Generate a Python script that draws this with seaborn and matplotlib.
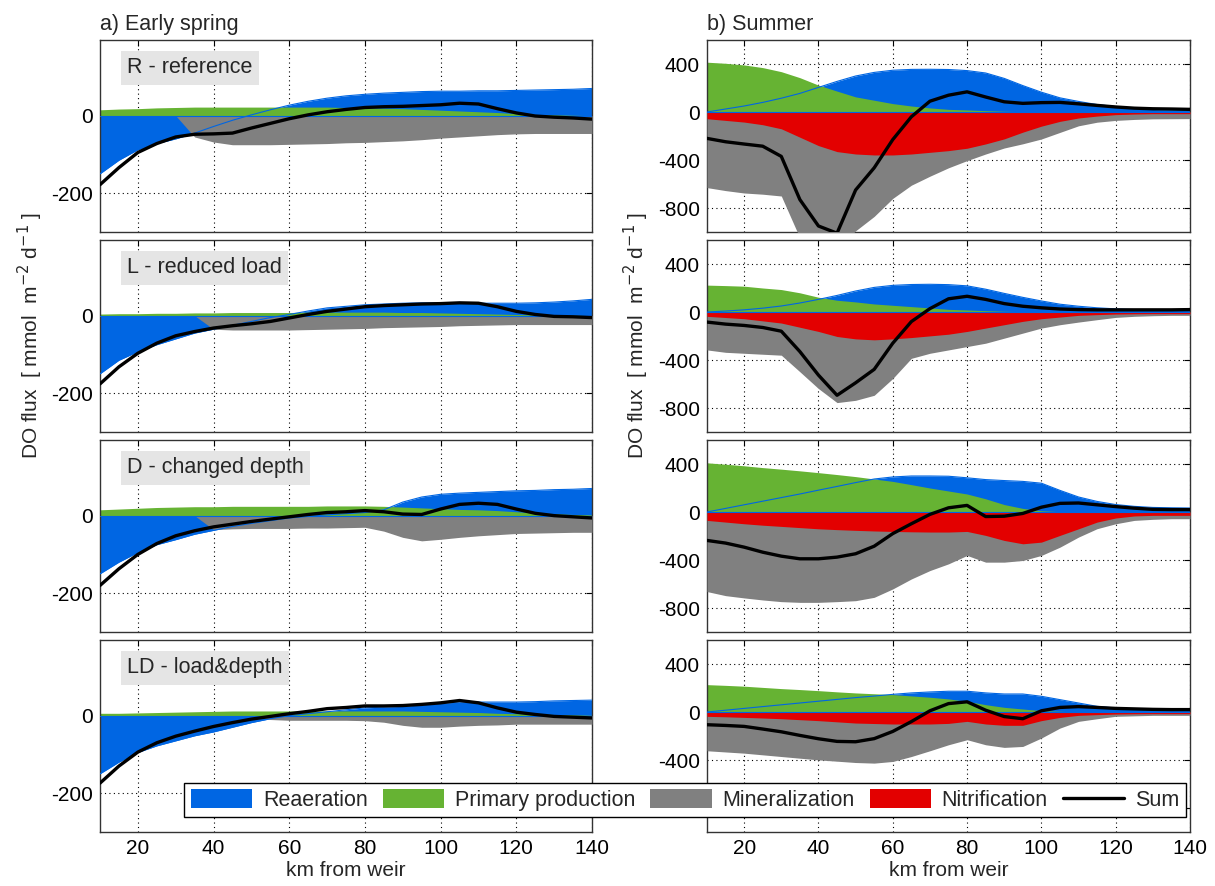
import numpy as np
import pandas as pd
import matplotlib
matplotlib.use("Agg")
import matplotlib.pyplot as plt
from matplotlib.patches import Patch
from matplotlib.lines import Line2D
import seaborn as sns

# ---------------- data ----------------
KM = [10, 15, 20, 25, 30, 35, 40, 45, 50, 55, 60, 65, 70, 75, 80, 85, 90, 95,
      100, 105, 110, 115, 120, 125, 130, 135, 140]

# Early spring
spring_R_rea = [-150, -115, -88, -72, -60, -45, -28, -12, 2, 15, 27, 37, 45, 51, 55, 58, 60, 62, 63, 63, 64, 64, 65, 66, 67, 68, 70]
spring_R_pp = [15, 17, 18, 20, 21, 22, 22, 22, 22, 22, 22, 22, 22, 21, 20, 19, 18, 16, 14, 12, 10, 8, 5, 3, 2, 1, 0]
spring_R_min = [0, 0, 0, 0, 0, -55, -68, -75, -75, -75, -74, -73, -72, -70, -69, -67, -65, -62, -58, -55, -52, -49, -47, -46, -46, -46, -46]
spring_R_nit = [0] * 27
spring_R_sum = [-178, -134, -95, -72, -55, -48, -47, -45, -32, -20, -8, 2, 10, 16, 21, 23, 24, 26, 28, 32, 30, 18, 7, -1, -4, -6, -9]

spring_L_rea = [-150, -115, -93, -75, -60, -45, -35, -25, -15, -5, 3, 12, 20, 24, 28, 30, 32, 33, 33, 33, 32, 32, 32, 33, 35, 38, 42]
spring_L_pp = [4, 5, 5, 6, 6, 7, 7, 8, 8, 8, 8, 9, 9, 9, 9, 9, 8, 8, 7, 6, 5, 4, 3, 2, 1, 1, 0]
spring_L_min = [0, 0, 0, 0, 0, 0, -35, -37, -37, -37, -37, -36, -35, -34, -33, -31, -30, -29, -28, -26, -25, -24, -23, -23, -23, -23, -23]
spring_L_nit = [0] * 27
spring_L_sum = [-176, -132, -97, -71, -52, -41, -32, -26, -21, -15, -6, 3, 11, 17, 23, 26, 28, 30, 31, 33, 32, 23, 11, 3, -2, -3, -5]

spring_D_rea = [-150, -120, -95, -75, -62, -48, -38, -28, -20, -13, -6, -2, 2, 5, 8, 15, 35, 48, 55, 58, 60, 62, 64, 65, 67, 68, 70]
spring_D_pp = [15, 17, 19, 21, 22, 23, 23, 24, 24, 24, 24, 24, 25, 25, 25, 24, 22, 20, 18, 16, 15, 13, 10, 7, 5, 3, 2]
spring_D_min = [0, 0, 0, 0, 0, 0, -36, -34, -33, -33, -33, -32, -32, -31, -30, -40, -56, -65, -61, -56, -52, -49, -46, -45, -44, -43, -43]
spring_D_nit = [0] * 27
spring_D_sum = [-180, -137, -100, -72, -52, -39, -29, -22, -15, -9, -3, 3, 8, 10, 13, 10, 4, 3, 17, 29, 32, 29, 17, 6, 0, -3, -6]

spring_LD_rea = [-150, -120, -95, -78, -65, -52, -42, -30, -18, -8, 0, 5, 10, 15, 20, 22, 24, 28, 32, 35, 35, 35, 35, 36, 38, 39, 40]
spring_LD_pp = [6, 6, 7, 8, 9, 10, 11, 12, 12, 12, 12, 12, 12, 12, 12, 12, 12, 11, 10, 9, 8, 6, 5, 4, 3, 2, 1]
spring_LD_min = [0, 0, 0, 0, 0, 0, 0, 0, 0, -10, -12, -12, -12, -12, -13, -17, -25, -30, -30, -27, -25, -24, -22, -22, -22, -22, -22]
spring_LD_nit = [0] * 27
spring_LD_sum = [-174, -130, -94, -70, -53, -40, -28, -18, -9, -2, 5, 11, 18, 21, 25, 25, 26, 29, 33, 39, 33, 20, 9, 3, -2, -4, -6]

# Summer
summer_R_rea = [0, 25, 50, 80, 115, 155, 205, 255, 300, 330, 348, 355, 356, 354, 345, 325, 280, 220, 165, 118, 88, 62, 45, 31, 21, 16, 14]
summer_R_pp = [415, 406, 392, 370, 336, 286, 224, 174, 126, 98, 70, 50, 34, 22, 17, 11, 6, 3, 0, 0, 0, 0, 0, 0, 0, 0, 0]
summer_R_min = [-630, -655, -675, -685, -700, -1050, -1150, -1150, -990, -870, -720, -610, -535, -465, -405, -350, -300, -265, -225, -170, -115, -85, -70, -62, -57, -56, -55]
summer_R_nit = [-56, -70, -84, -106, -140, -210, -280, -330, -350, -358, -358, -350, -336, -322, -302, -266, -224, -168, -118, -78, -50, -34, -22, -17, -14, -14, -14]
summer_R_sum = [-220, -248, -267, -285, -370, -730, -950, -1010, -650, -465, -230, -40, 90, 140, 168, 125, 85, 72, 78, 80, 68, 55, 42, 32, 27, 25, 22]

summer_L_rea = [0, 8, 18, 32, 50, 75, 105, 138, 175, 205, 222, 229, 231, 228, 218, 190, 155, 122, 92, 65, 48, 35, 26, 20, 16, 14, 12]
summer_L_pp = [224, 220, 215, 200, 187, 160, 123, 98, 84, 67, 56, 45, 34, 22, 17, 11, 6, 3, 0, 0, 0, 0, 0, 0, 0, 0, 0]
summer_L_min = [-316, -336, -344, -352, -360, -498, -638, -755, -736, -694, -554, -386, -344, -316, -288, -260, -218, -176, -134, -106, -84, -64, -45, -36, -31, -28, -28]
summer_L_nit = [-36, -46, -56, -74, -92, -127, -162, -204, -224, -232, -224, -213, -199, -185, -162, -134, -106, -78, -56, -42, -28, -22, -17, -15, -14, -14, -14]
summer_L_sum = [-84, -101, -112, -129, -160, -330, -526, -694, -590, -478, -260, -80, 28, 110, 131, 105, 70, 48, 35, 25, 20, 18, 18, 18, 18, 18, 20]

summer_D_rea = [0, 30, 60, 90, 120, 150, 182, 213, 245, 275, 292, 300, 300, 298, 285, 270, 262, 255, 240, 180, 125, 88, 62, 47, 38, 35, 33]
summer_D_pp = [410, 398, 385, 370, 357, 343, 328, 312, 295, 275, 255, 228, 200, 175, 150, 110, 62, 30, 10, 3, 0, 0, 0, 0, 0, 0, 0]
summer_D_min = [-663, -697, -716, -733, -747, -753, -753, -747, -739, -711, -641, -558, -488, -432, -362, -418, -418, -404, -362, -293, -209, -139, -98, -70, -61, -56, -56]
summer_D_nit = [-70, -84, -98, -110, -120, -130, -140, -147, -153, -158, -162, -165, -167, -167, -162, -195, -237, -265, -251, -195, -140, -84, -50, -33, -28, -28, -28]
summer_D_sum = [-237, -259, -293, -335, -368, -390, -390, -376, -348, -285, -180, -98, -20, 35, 55, -38, -35, -12, 40, 72, 75, 60, 45, 32, 22, 20, 20]

summer_LD_rea = [0, 15, 30, 45, 60, 75, 90, 105, 120, 133, 147, 159, 167, 173, 173, 159, 150, 150, 131, 103, 75, 47, 33, 25, 20, 17, 17]
summer_LD_pp = [228, 222, 215, 205, 195, 187, 178, 168, 159, 152, 145, 134, 123, 109, 89, 61, 39, 25, 11, 6, 0, 0, 0, 0, 0, 0, 0]
summer_LD_min = [-323, -333, -343, -357, -371, -385, -399, -410, -421, -426, -412, -371, -323, -273, -231, -273, -295, -287, -217, -134, -78, -56, -36, -32, -28, -28, -28]
summer_LD_nit = [-36, -40, -45, -50, -56, -64, -72, -82, -92, -96, -100, -100, -100, -95, -78, -100, -111, -111, -72, -45, -28, -22, -17, -15, -14, -14, -14]
summer_LD_sum = [-106, -112, -120, -142, -165, -195, -223, -245, -248, -222, -162, -80, 10, 70, 85, 15, -38, -56, 10, 38, 45, 38, 30, 26, 22, 20, 20]

SCENARIO_LABELS = ["R - reference", "L - reduced load", "D - changed depth", "LD - load&depth"]
COLUMN_TITLES = ["a) Early spring", "b) Summer"]
LEGEND_LABELS = ["Reaeration", "Primary production", "Mineralization", "Nitrification", "Sum"]
X_TICKS = [20, 40, 60, 80, 100, 120, 140]
SPRING_YTICKS = [-200, 0]
SUMMER_YTICKS = [-800, -400, 0, 400]

spring = [
    (spring_R_rea, spring_R_pp, spring_R_min, spring_R_nit, spring_R_sum),
    (spring_L_rea, spring_L_pp, spring_L_min, spring_L_nit, spring_L_sum),
    (spring_D_rea, spring_D_pp, spring_D_min, spring_D_nit, spring_D_sum),
    (spring_LD_rea, spring_LD_pp, spring_LD_min, spring_LD_nit, spring_LD_sum),
]
summer = [
    (summer_R_rea, summer_R_pp, summer_R_min, summer_R_nit, summer_R_sum),
    (summer_L_rea, summer_L_pp, summer_L_min, summer_L_nit, summer_L_sum),
    (summer_D_rea, summer_D_pp, summer_D_min, summer_D_nit, summer_D_sum),
    (summer_LD_rea, summer_LD_pp, summer_LD_min, summer_LD_nit, summer_LD_sum),
]

# ---------------- style ----------------
sns.set_style("white")
plt.rcParams['font.family'] = ['Liberation Sans', 'DejaVu Sans']
plt.rcParams['axes.unicode_minus'] = False

C_REA = (0.0, 0.40, 0.89)
C_PP = (0.40, 0.70, 0.20)
C_MIN = (0.50, 0.50, 0.50)
C_NIT = (0.89, 0.0, 0.0)

FS_TICK = 15
FS_LABEL = 15
FS_TITLE = 15.5
FS_PANEL = 15.5
FS_LEG = 15.5

W, H = 1215, 886
fig = plt.figure(figsize=(W / 100, H / 100), dpi=100)

col_x = [(100, 592), (707, 1190)]
row_top = [40, 240, 440, 640]
row_h = 192

def draw_panel(ax, data, ylim, yticks):
    rea, pp, mn, nit, sm = data
    ax.fill_between(KM, 0, rea, color=C_REA, lw=0, zorder=1)
    ax.fill_between(KM, 0, pp, color=C_PP, lw=0, zorder=2)
    ax.fill_between(KM, 0, mn, color=C_MIN, lw=0, zorder=3)
    ax.fill_between(KM, 0, nit, color=C_NIT, lw=0, zorder=4)
    ax.plot(KM, rea, color=C_REA, lw=0.8, zorder=5)
    ax.axhline(0, color=C_REA, lw=0.8, zorder=5)
    df = pd.DataFrame({"km": KM, "sum": sm})
    sns.lineplot(data=df, x="km", y="sum", ax=ax, color="black", lw=2.4,
                 zorder=6, sort=False, legend=False)
    ax.set_xlim(10, 140)
    ax.set_ylim(*ylim)
    ax.set_xticks(X_TICKS)
    ax.set_yticks(yticks)
    ax.set_xlabel("")
    ax.set_ylabel("")
    ax.set_axisbelow(True)
    ax.grid(True, ls=(0, (1, 3)), color="black", lw=0.8)
    ax.tick_params(direction="in", top=True, right=True, length=4,
                   labelsize=FS_TICK, colors="black", width=0.8, pad=5)
    for s in ax.spines.values():
        s.set_color("#333333")
        s.set_linewidth(1.0)

for c in range(2):
    x0, x1 = col_x[c]
    for r in range(4):
        t = row_top[r]
        ax = fig.add_axes([x0 / W, 1 - (t + row_h) / H, (x1 - x0) / W, row_h / H])
        if c == 0:
            draw_panel(ax, spring[r], (-300, 195), SPRING_YTICKS)
            ax.text(0.055, 0.855, SCENARIO_LABELS[r], transform=ax.transAxes,
                    fontsize=FS_PANEL, va="center", ha="left", zorder=10,
                    bbox=dict(facecolor="#e5e5e5", edgecolor="none",
                              boxstyle="square,pad=0.3"))
        else:
            draw_panel(ax, summer[r], (-1000, 600), SUMMER_YTICKS)
        if r < 3:
            ax.tick_params(labelbottom=False)
        else:
            ax.set_xlabel("km from weir", fontsize=FS_LABEL, labelpad=2)
        if r == 0:
            ax.set_title(COLUMN_TITLES[c], loc="left", fontsize=FS_TITLE, pad=7)

ylab = "DO flux  [ mmol  m$^{-2}$ d$^{-1}$ ]"
fig.text(30 / W, 1 - 336 / H, ylab, rotation=90, va="center", ha="center", fontsize=FS_LABEL)
fig.text(636 / W, 1 - 336 / H, ylab, rotation=90, va="center", ha="center", fontsize=FS_LABEL)

handles = [Patch(facecolor=C_REA, edgecolor="none"),
           Patch(facecolor=C_PP, edgecolor="none"),
           Patch(facecolor=C_MIN, edgecolor="none"),
           Patch(facecolor=C_NIT, edgecolor="none"),
           Line2D([0], [0], color="black", lw=2.4)]
leg = fig.legend(handles, LEGEND_LABELS, ncol=5, loc="center",
                 bbox_to_anchor=(685 / W, 1 - 800 / H), fontsize=FS_LEG,
                 frameon=True, fancybox=False, framealpha=1, edgecolor="black",
                 handlelength=2.85, handleheight=1.0, columnspacing=0.7,
                 handletextpad=0.5, borderpad=0.3, borderaxespad=0)
leg.get_frame().set_linewidth(1.0)
leg.set_zorder(20)

fig.savefig("out.png", dpi=100)
